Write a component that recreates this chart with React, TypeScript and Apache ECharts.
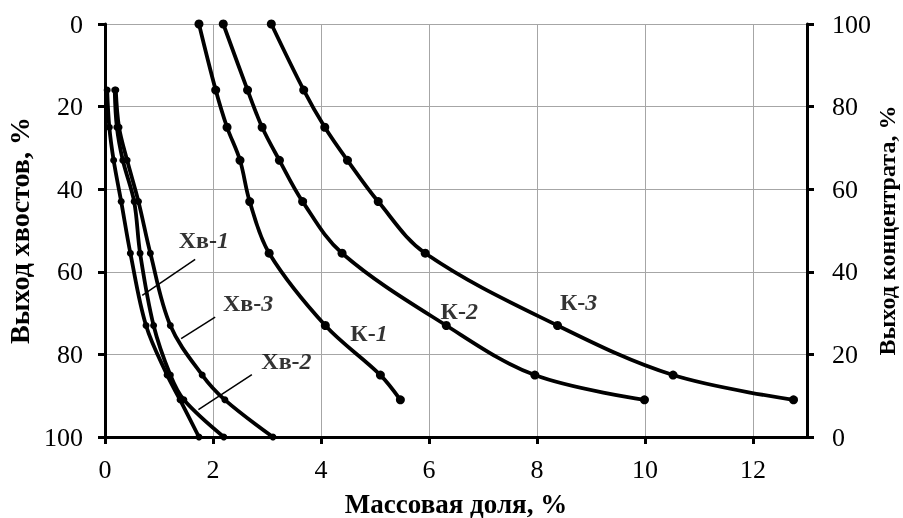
import React, { useEffect, useRef } from "react";
import * as echarts from "echarts";

// Left axis: tailings yield, %; right axis: concentrate yield, %
const tailYield = [16, 25, 33, 43, 55.5, 73, 85, 91, 100];
const concYield = [100, 84, 75, 67, 57, 44.5, 27, 15, 9];

// Mass fraction, % (x)
const k1 = [1.74, 2.05, 2.26, 2.5, 2.68, 3.04, 4.08, 5.1, 5.47];
const k2 = [2.19, 2.64, 2.91, 3.23, 3.66, 4.39, 6.32, 7.96, 9.99];
const k3 = [3.08, 3.68, 4.07, 4.49, 5.06, 5.93, 8.38, 10.52, 12.75];
const hv1 = [0.04, 0.08, 0.16, 0.3, 0.47, 0.76, 1.15, 1.39, 1.74];
const hv2 = [0.18, 0.22, 0.33, 0.54, 0.65, 0.9, 1.21, 1.46, 2.2];
const hv3 = [0.2, 0.26, 0.41, 0.62, 0.84, 1.21, 1.8, 2.22, 3.11];

// Curve labels: [x, y(left axis), prefix, number]
const curveLabels: [number, number, string, string][] = [
  [1.83, 52.4, "Хв-", "1"],
  [2.65, 67.5, "Хв-", "3"],
  [3.36, 81.5, "Хв-", "2"],
  [4.89, 74.8, "К-", "1"],
  [6.56, 69.6, "К-", "2"],
  [8.77, 67.4, "К-", "3"],
];

// Leader lines (left axis coordinates)
const leaders: [number, number][][] = [
  [[1.67, 57.0], [0.69, 65.7]],
  [[2.04, 71.0], [1.41, 76.2]],
  [[2.72, 84.9], [1.73, 93.4]],
];

const xTicks = { min: 0, max: 13, interval: 2 };
const yTicks = { min: 0, max: 100, interval: 20 };

const FONT = "'Liberation Serif', 'Times New Roman', serif";

export default function App() {
  const ref = useRef<HTMLDivElement>(null);
  useEffect(() => {
    document.body.style.margin = "0";
    document.body.style.overflow = "hidden";
    if (!ref.current) return;
    const chart = echarts.init(ref.current, null, { renderer: "svg" });

    const pair = (xs: number[], ys: number[]) => xs.map((x, i) => [x, ys[i]]);

    const curve = (name: string, data: number[][], yAxisIndex: number, sym: number) => ({
      name,
      type: "line",
      xAxisIndex: 0,
      yAxisIndex,
      data,
      smooth: 0.35,
      symbol: "circle",
      symbolSize: sym,
      showAllSymbol: true,
      lineStyle: { color: "#000", width: 3.8 },
      itemStyle: { color: "#000" },
      z: 3,
    });

    const axisLineStyle = { lineStyle: { color: "#000", width: 3 } };
    const tickStyle = { show: true, inside: false, length: 7, lineStyle: { color: "#000", width: 3 } };
    const labelFont = { fontFamily: FONT, fontSize: 26, color: "#000" };
    const nameFont = (size: number) => ({ fontFamily: FONT, fontSize: size, fontWeight: "bold", color: "#000" });

    chart.setOption({
      animation: false,
      textStyle: { fontFamily: FONT },
      grid: { left: 105, right: 96, top: 24, bottom: 81, containLabel: false, outerBoundsMode: "none" },
      xAxis: {
        type: "value",
        min: xTicks.min,
        max: xTicks.max,
        interval: xTicks.interval,
        name: "Массовая доля, %",
        nameLocation: "middle",
        nameGap: 53,
        nameTextStyle: nameFont(27),
        axisLine: { onZero: false, ...axisLineStyle },
        axisTick: tickStyle,
        axisLabel: { ...labelFont, margin: 19, showMaxLabel: false },
        splitLine: { show: true, lineStyle: { color: "#a6a6a6", width: 1 } },
      },
      yAxis: [
        {
          type: "value",
          position: "left",
          inverse: true,
          min: yTicks.min,
          max: yTicks.max,
          interval: yTicks.interval,
          name: "Выход хвостов, %",
          nameLocation: "middle",
          nameGap: 67,
          nameTextStyle: nameFont(28),
          axisLine: { show: true, onZero: false, ...axisLineStyle },
          axisTick: tickStyle,
          axisLabel: { ...labelFont, margin: 22 },
          splitLine: { show: true, lineStyle: { color: "#a6a6a6", width: 1 } },
        },
        {
          type: "value",
          position: "right",
          min: yTicks.min,
          max: yTicks.max,
          interval: yTicks.interval,
          name: "Выход концентрата, %",
          nameLocation: "middle",
          nameGap: 68,
          nameMoveOverlap: false,
          nameTextStyle: nameFont(24),
          axisLine: { show: true, onZero: false, ...axisLineStyle },
          axisTick: tickStyle,
          axisLabel: { ...labelFont, margin: 25 },
          splitLine: { show: false },
        },
      ],
      series: [
        curve("К-1", pair(k1, concYield), 1, 9),
        curve("К-2", pair(k2, concYield), 1, 9),
        curve("К-3", pair(k3, concYield), 1, 9),
        curve("Хв-1", pair(hv1, tailYield), 0, 7),
        curve("Хв-2", pair(hv2, tailYield), 0, 7),
        curve("Хв-3", pair(hv3, tailYield), 0, 7),
        ...leaders.map((seg, i) => ({
          name: "leader" + i,
          type: "line",
          xAxisIndex: 0,
          yAxisIndex: 0,
          data: seg,
          symbol: "none",
          lineStyle: { color: "#000", width: 1.5 },
          z: 2,
        })),
        {
          name: "labels",
          type: "scatter",
          xAxisIndex: 0,
          yAxisIndex: 0,
          symbolSize: 0,
          data: curveLabels.map((l) => ({ value: [l[0], l[1]], pre: l[2], num: l[3] })),
          label: {
            show: true,
            position: "inside",
            formatter: (p: any) => `{a|${p.data.pre}}{b|${p.data.num}}`,
            rich: {
              a: { fontFamily: FONT, fontSize: 24, fontWeight: "bold", color: "#000" },
              b: { fontFamily: FONT, fontSize: 24, fontWeight: "bold", fontStyle: "italic", color: "#000" },
            },
          },
          z: 5,
        },
      ],
    });
    return () => chart.dispose();
  }, []);
  return (
    <div
      ref={ref}
      style={{ position: "fixed", left: 0, top: 0, width: 903, height: 518 }}
    />
  );
}
